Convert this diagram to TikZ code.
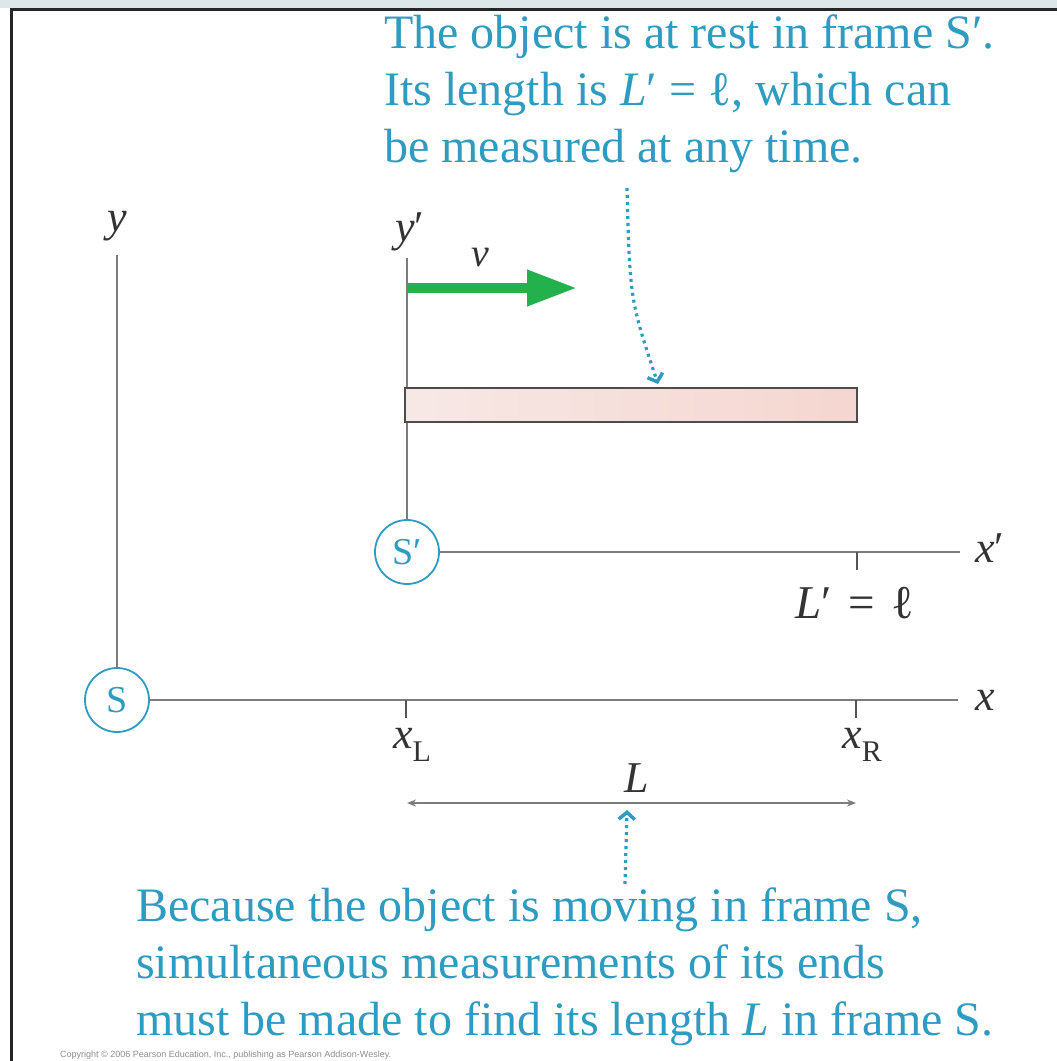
\documentclass[tikz,border=0pt]{standalone}
\usepackage{fontspec}
\setmainfont{Liberation Serif}
\newfontfamily\copyfont{Liberation Sans}
\usetikzlibrary{arrows.meta}
\definecolor{cyanT}{HTML}{2E9CC0}
\definecolor{axisG}{HTML}{7C7C7C}
\definecolor{tickG}{HTML}{555555}
\definecolor{greenV}{HTML}{22B14C}
\definecolor{bandC}{HTML}{DCE7E9}
\definecolor{rodL}{HTML}{F7E8E6}
\definecolor{rodR}{HTML}{F5D6D0}
\tikzset{
  axis/.style={draw=axisG, line width=2.6pt},
  tickmark/.style={draw=tickG, line width=1.6pt},
  origin/.style={circle, draw=cyanT, line width=1.8pt, minimum size=64pt, inner sep=0pt, text=cyanT, font=\fontsize{38}{38}\selectfont, fill=white},
  lab/.style={inner sep=0pt, text=black!80, font=\fontsize{44}{44}\selectfont},
  note/.style={inner sep=0pt, align=left, text=cyanT, font=\fontsize{48}{57}\selectfont},
  dotarrow/.style={draw=cyanT, line width=3.2pt, dash pattern=on 3pt off 4pt, -{Straight Barb[length=7pt,width=16pt,line width=3.5pt]}},
  dimline/.style={draw=axisG, line width=1.6pt, {Stealth[length=9pt,width=7pt]}-{Stealth[length=9pt,width=7pt]}},
  rod/.style={draw=black!70, line width=1.6pt, left color=rodL, right color=rodR, minimum width=452pt, minimum height=34pt, inner sep=0pt},
}
\begin{document}
\begin{tikzpicture}[x=1pt,y=-1pt]
\useasboundingbox (0,0) rectangle (1057,1061);
\fill[bandC] (0,0) rectangle (1057,8);
\draw[line width=3pt, black!85] (11.5,1061) -- (11.5,9.5) -- (1057,9.5);

% frame S
\node[origin] (S) at (117,700) {S};
\coordinate (ytop) at (117,255);
\coordinate (xend) at (958,700);
\draw[axis] (S) -- (ytop);
\draw[axis] (S) -- (xend);
\node[lab] (ylab) at (117,226) {\textit{y}};
\node[lab, anchor=west] (xlab) at (975,700) {\textit{x}};

\coordinate (tL) at (406,700);
\coordinate (tR) at (856,700);
\coordinate (tLb) at (406,718);
\coordinate (tRb) at (856,718);
\draw[tickmark] (tL) -- (tLb);
\draw[tickmark] (tR) -- (tRb);
\node[lab] (xLlab) at (412,745) {\textit{x}\raisebox{-0.28em}{\fontsize{30}{30}\selectfont L}};
\node[lab] (xRlab) at (862,745) {\textit{x}\raisebox{-0.28em}{\fontsize{30}{30}\selectfont R}};

\coordinate (dL) at (407,803);
\coordinate (dR) at (856,803);
\draw[dimline] (dL) -- (dR);
\node[lab] (Llab) at (637,778) {\textit{L}};

% frame S'
\node[origin] (Sp) at (407,552) {S′};
\coordinate (yptop) at (407,258);
\coordinate (xpend) at (960,552);
\draw[axis] (Sp) -- (yptop);
\draw[axis] (Sp) -- (xpend);
\node[lab] (yplab) at (410,232) {\textit{y}′};
\node[lab, anchor=west] (xplab) at (975,548) {\textit{x}′};
\coordinate (tP) at (857,552);
\coordinate (tPb) at (857,570);
\draw[tickmark] (tP) -- (tPb);
\node[lab, font=\fontsize{47}{47}\selectfont] (Lplab) at (855,603) {\textit{L}′\hspace{0.35em}=\hspace{0.35em}ℓ};

% velocity
\coordinate (v0) at (407,288);
\coordinate (v1) at (577,288);
\draw[greenV, line width=10pt, -{Triangle[length=50pt,width=34pt]}] (v0) -- (v1);
\node[lab, font=\fontsize{40}{40}\selectfont] (vlab) at (480,258) {\textit{v}};

% rod
\node[rod] (rod) at (631,405) {};

% notes
\node[note, anchor=north west] (topnote) at (384,14) {The object is at rest in frame S′.\\Its length is \textit{L}′ = ℓ, which can\\be measured at any time.};
\coordinate (d1) at (627,188);
\coordinate (d2) at (658,384);
\draw[dotarrow] (d1) .. controls (630,300) .. (d2);

\node[note, anchor=north west] (botnote) at (136,887) {Because the object is moving in frame S,\\simultaneous measurements of its ends\\must be made to find its length \textit{L} in frame S.};
\coordinate (d3) at (625,884);
\coordinate (d4) at (627,810);
\draw[dotarrow] (d3) -- (d4);

\node[anchor=west, inner sep=0pt, text=black!45, font=\copyfont\fontsize{9}{9}\selectfont] (copy) at (60,1055) {Copyright \textcopyright{} 2006 Pearson Education, Inc., publishing as Pearson Addison-Wesley.};
\end{tikzpicture}
\end{document}
